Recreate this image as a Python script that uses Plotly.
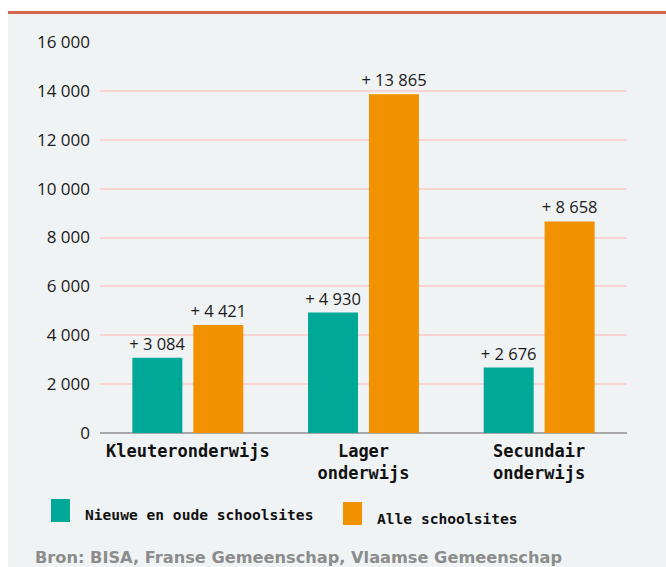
import plotly.graph_objects as go

categories = ["Kleuteronderwijs", "Lager<br>onderwijs", "Secundair<br>onderwijs"]
series_names = ["Nieuwe en oude schoolsites", "Alle schoolsites"]
nieuwe_oude = [3084, 4930, 2676]
alle = [4421, 13865, 8658]
tick_vals = [0, 2000, 4000, 6000, 8000, 10000, 12000, 14000, 16000]

TEAL = "#00a898"
ORANGE = "#f39200"
BG = "#f0f3f4"

W, H = 666, 567
L, R, T, B = 100, 627, 42, 433


def xp(px):
    return (px - L) / (R - L)


def yp(py):
    return (B - py) / (B - T)


fig = go.Figure()
for name, vals, col in [(series_names[0], nieuwe_oude, TEAL), (series_names[1], alle, ORANGE)]:
    fig.add_trace(go.Bar(
        x=categories, y=vals, name=name, marker=dict(color=col, line=dict(width=0)),
        texttemplate="+ %{y:,d}", textposition="outside", constraintext="none",
        textfont=dict(family="Open Sans", size=16.5, color="#1a1a1a"),
        cliponaxis=False, showlegend=False,
    ))

shapes = [
    dict(type="rect", xref="paper", yref="paper", x0=xp(-5), x1=xp(W + 5), y0=yp(14), y1=yp(-5),
         fillcolor="white", line=dict(width=0), layer="below"),
    dict(type="rect", xref="paper", yref="paper", x0=xp(-5), x1=xp(8), y0=yp(H + 5), y1=yp(-5),
         fillcolor="white", line=dict(width=0), layer="below"),
    dict(type="rect", xref="paper", yref="paper", x0=xp(8), x1=xp(W + 5), y0=yp(14), y1=yp(11),
         fillcolor="#d4654e", line=dict(width=0), layer="below"),
    dict(type="rect", xref="paper", yref="paper", x0=xp(51), x1=xp(70), y0=yp(522), y1=yp(499),
         fillcolor=TEAL, line=dict(width=0)),
    dict(type="rect", xref="paper", yref="paper", x0=xp(343), x1=xp(362), y0=yp(525), y1=yp(502),
         fillcolor=ORANGE, line=dict(width=0)),
]

annotations = [
    dict(xref="paper", yref="paper", x=xp(83), y=yp(514), xanchor="left", yanchor="middle",
         text=series_names[0], showarrow=False,
         font=dict(family="DejaVu Sans Mono", size=14.6, color="#111", weight="bold")),
    dict(xref="paper", yref="paper", x=xp(375), y=yp(518), xanchor="left", yanchor="middle",
         text=series_names[1], showarrow=False,
         font=dict(family="DejaVu Sans Mono", size=14.6, color="#111", weight="bold")),
    dict(xref="paper", yref="paper", x=xp(33), y=yp(557), xanchor="left", yanchor="middle",
         text="Bron: BISA, Franse Gemeenschap, Vlaamse Gemeenschap", showarrow=False,
         font=dict(family="DejaVu Sans", size=16.2, color="#8c8c8c", weight="bold")),
]

fig.update_layout(
    width=W, height=H,
    margin=dict(l=L, r=W - R, t=T, b=H - B, pad=0),
    paper_bgcolor=BG, plot_bgcolor="rgba(0,0,0,0)",
    barmode="group", bargap=0.306, bargroupgap=0.18,
    separators=", ",
    shapes=shapes, annotations=annotations,
    showlegend=False,
    xaxis=dict(showgrid=False, showline=False, ticks="", ticklabelstandoff=6,
               tickfont=dict(family="DejaVu Sans Mono", size=17, color="#111", weight="bold")),
    yaxis=dict(range=[0, 16000], tickvals=tick_vals, tickformat=",d",
               showgrid=True, gridcolor="#f9d3d3", gridwidth=1.5,
               zeroline=True, zerolinecolor="#a8a8a8", zerolinewidth=2,
               showline=False, ticks="", ticklabelstandoff=9,
               tickfont=dict(family="Open Sans", size=17, color="#1a1a1a")),
)

fig.write_html(
    "out.html",
    config={"displayModeBar": False},
    post_script="document.body.style.margin='0';document.body.style.overflow='hidden';",
)
